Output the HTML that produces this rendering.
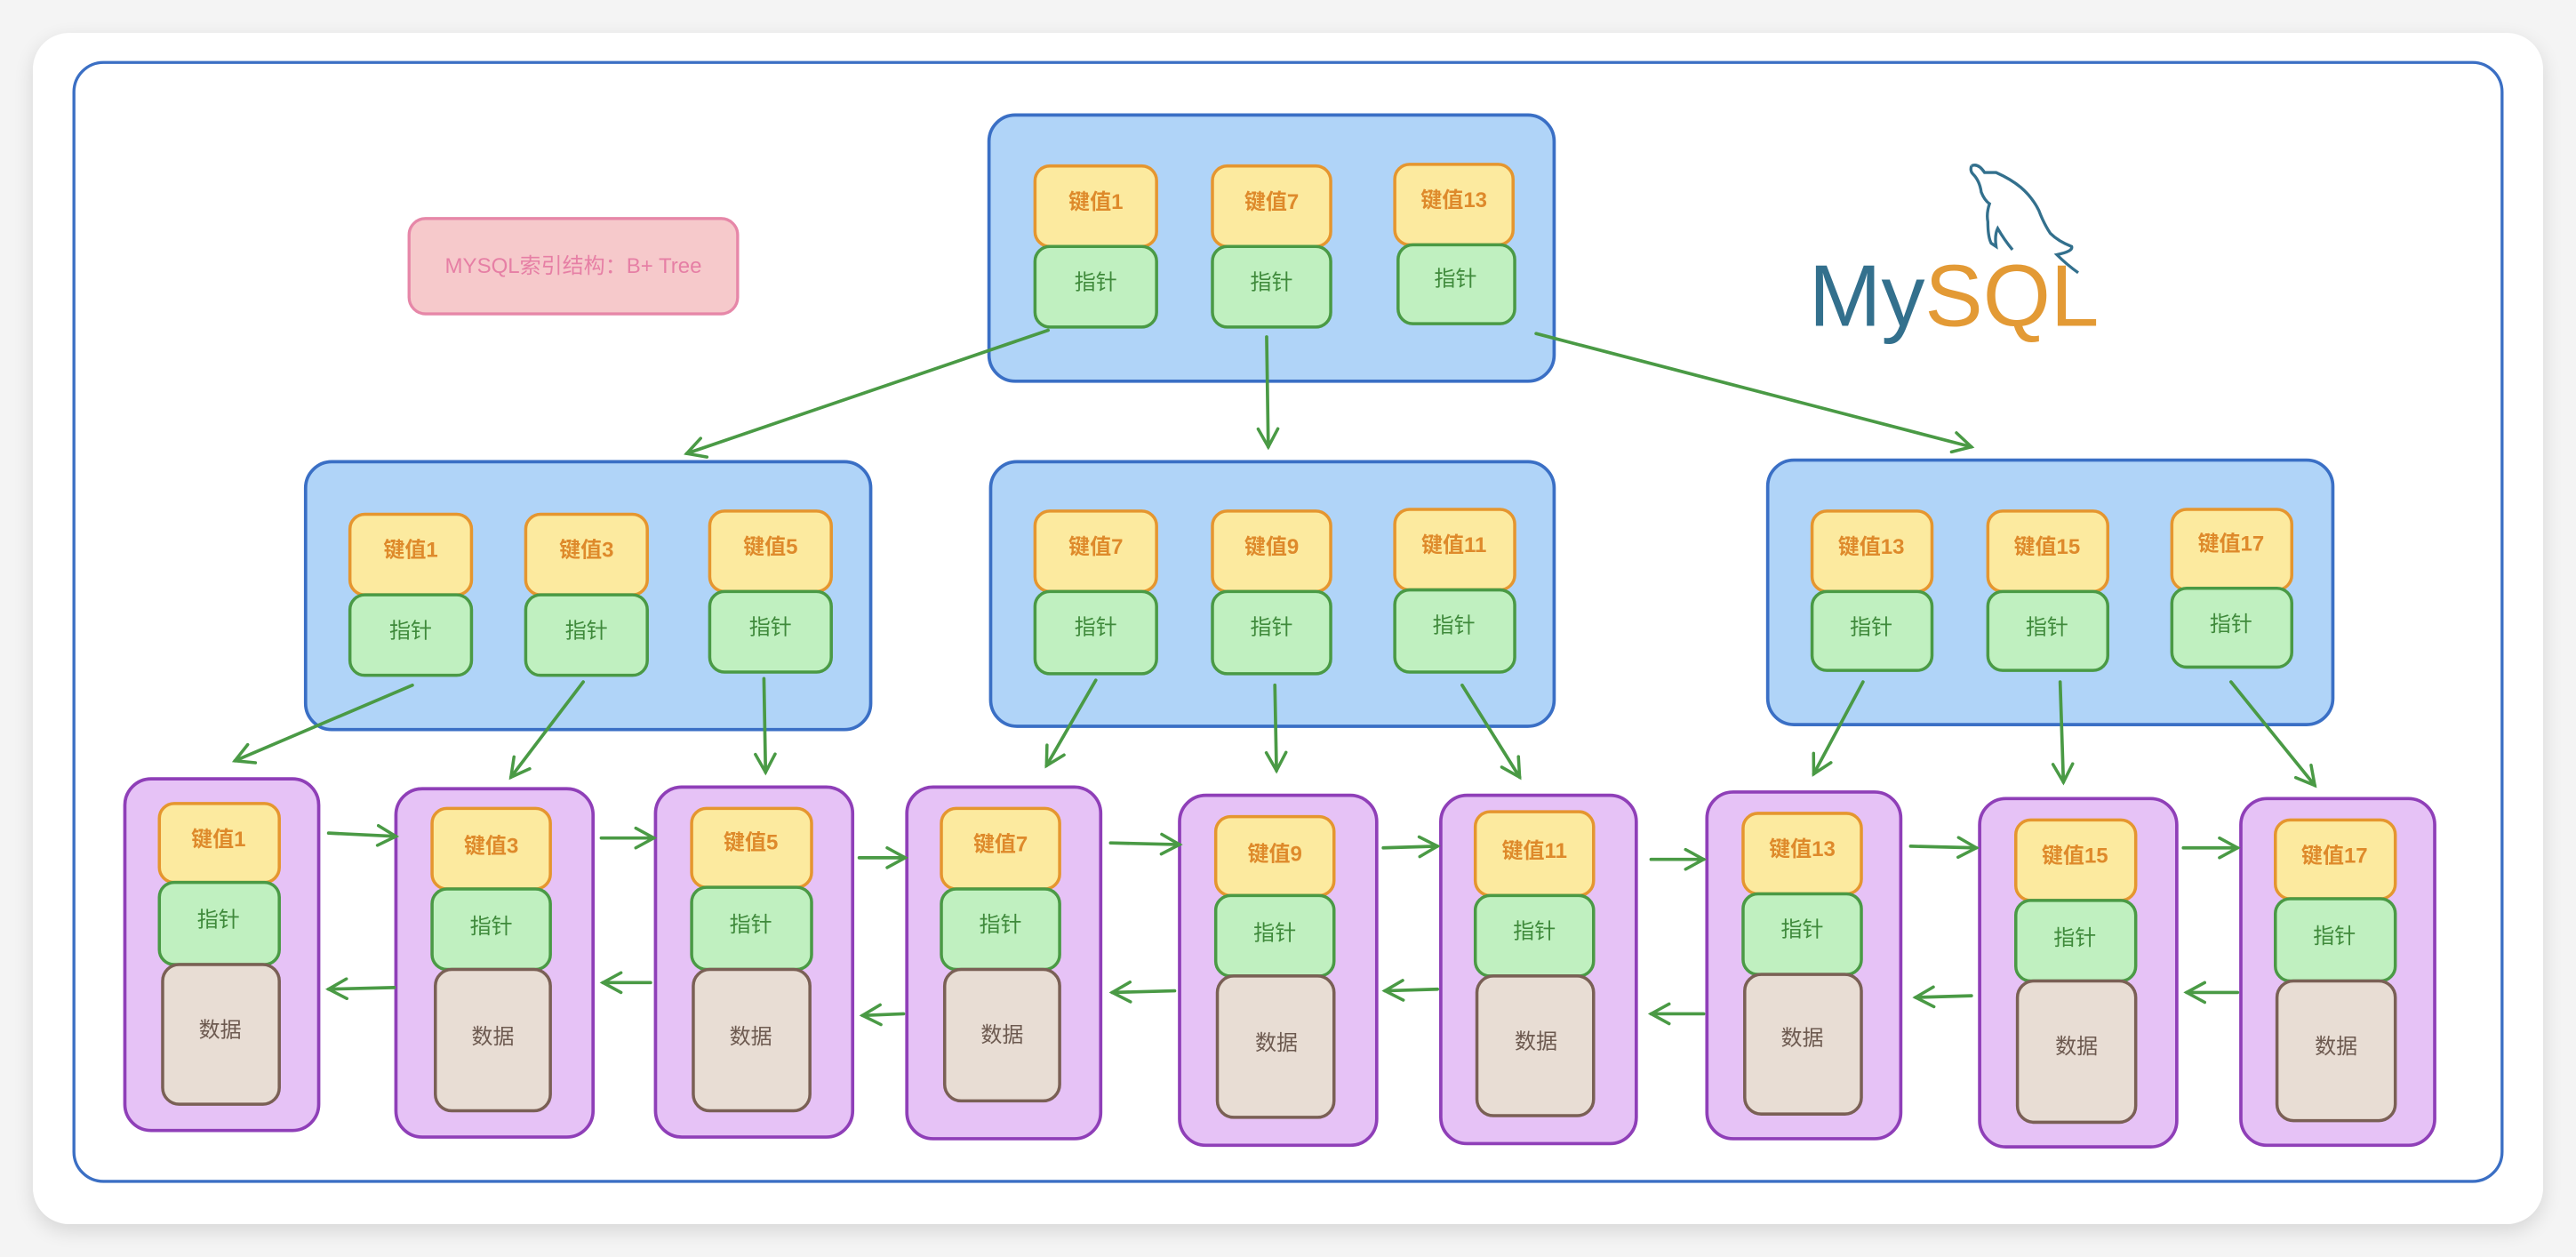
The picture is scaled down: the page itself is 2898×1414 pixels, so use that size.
<!DOCTYPE html>
<html><head><meta charset="utf-8"><style>
html,body{margin:0;padding:0;width:2898px;height:1414px;overflow:hidden;background:#f4f4f4}
svg{display:block}
text{font-family:"Liberation Sans","Noto Sans CJK SC",sans-serif;text-anchor:middle;dominant-baseline:central}
.k{fill:#fcea9f;stroke:#e5962f;stroke-width:1.9}
.kt{fill:#de8a2b;font-size:13px;font-weight:bold}
.p{fill:#c0f0c0;stroke:#4a9a45;stroke-width:1.9}
.pt{fill:#3f8a3b;font-size:13px}
.d{fill:#e8ddd4;stroke:#7a6055;stroke-width:1.9}
.dt{fill:#6d5a50;font-size:13px}
.n{fill:#b0d4f8;stroke:#3a6fc5;stroke-width:2}
.l{fill:#e6c2f6;stroke:#8f3fb8;stroke-width:2}
.a{stroke:#4a9a45;stroke-width:2;fill:none;stroke-linecap:round}
</style></head><body>
<svg width="2898" height="1414" viewBox="0 0 1568 765" preserveAspectRatio="none">
<defs>
<marker id="ah" markerWidth="14" markerHeight="14" refX="12" refY="7" orient="auto" markerUnits="userSpaceOnUse">
<path d="M1,1 L12,7 L1,13" fill="none" stroke="#4a9a45" stroke-width="1.9" stroke-linecap="round"/>
</marker>
<filter id="sh" x="-5%" y="-5%" width="110%" height="110%"><feGaussianBlur stdDeviation="6"/></filter>
</defs>
<rect x="0" y="0" width="1568" height="765" fill="#f4f4f4"/>
<rect x="20" y="24" width="1528" height="725" rx="22" fill="#000" opacity="0.12" filter="url(#sh)"/>
<rect x="20" y="20" width="1528" height="725" rx="22" fill="#fff"/>
<rect x="45" y="38" width="1478" height="681" rx="18" fill="none" stroke="#3b6fc4" stroke-width="1.8"/>

<rect x="249" y="133" width="200" height="58" rx="10" fill="#f6c9cb" stroke="#e687a8" stroke-width="1.8"/>
<text x="349" y="162" style="fill:#e67fa5;font-size:13px">MYSQL索引结构：B+ Tree</text>

<!-- MySQL logo -->
<path d="M1200,101 Q1204,99 1208,105 L1215,105 Q1224,109 1230,114 Q1237,120 1241,128 Q1244,136 1248,142 Q1253,147 1261,150 Q1262,153 1252,155 Q1258,161 1265,166 M1200,101 Q1199,104 1201,106 Q1205,110 1206,117 Q1208,122 1211,124 Q1209,130 1210,135 Q1210,144 1212,148 L1215,150 Q1214,143 1216,139 Q1220,146 1225,152" fill="none" stroke="#33708d" stroke-width="1.8"/>
<text x="1101" y="180" style="text-anchor:start;font-size:53px;fill:#33708d">My<tspan fill="#e39a35">SQL</tspan></text>

<!-- root -->
<rect class="n" x="602" y="70" width="344" height="162" rx="16"/>
<rect class="k" x="630" y="101" width="74" height="49" rx="9"/><text class="kt" x="667" y="123">键值1</text>
<rect class="p" x="630" y="150" width="74" height="49" rx="9"/><text class="pt" x="667" y="172">指针</text>
<rect class="k" x="738" y="101" width="72" height="49" rx="9"/><text class="kt" x="774" y="123">键值7</text>
<rect class="p" x="738" y="150" width="72" height="49" rx="9"/><text class="pt" x="774" y="172">指针</text>
<rect class="k" x="849" y="100" width="72" height="49" rx="9"/><text class="kt" x="885" y="122">键值13</text>
<rect class="p" x="851" y="149" width="71" height="48" rx="9"/><text class="pt" x="886" y="170">指针</text>

<!-- mid -->
<rect class="n" x="186" y="281" width="344" height="163" rx="16"/>
<rect class="k" x="213" y="313" width="74" height="49" rx="9"/><text class="kt" x="250" y="335">键值1</text>
<rect class="p" x="213" y="362" width="74" height="49" rx="9"/><text class="pt" x="250" y="384">指针</text>
<rect class="k" x="320" y="313" width="74" height="49" rx="9"/><text class="kt" x="357" y="335">键值3</text>
<rect class="p" x="320" y="362" width="74" height="49" rx="9"/><text class="pt" x="357" y="384">指针</text>
<rect class="k" x="432" y="311" width="74" height="49" rx="9"/><text class="kt" x="469" y="333">键值5</text>
<rect class="p" x="432" y="360" width="74" height="49" rx="9"/><text class="pt" x="469" y="382">指针</text>

<rect class="n" x="603" y="281" width="343" height="161" rx="16"/>
<rect class="k" x="630" y="311" width="74" height="49" rx="9"/><text class="kt" x="667" y="333">键值7</text>
<rect class="p" x="630" y="360" width="74" height="50" rx="9"/><text class="pt" x="667" y="382">指针</text>
<rect class="k" x="738" y="311" width="72" height="49" rx="9"/><text class="kt" x="774" y="333">键值9</text>
<rect class="p" x="738" y="360" width="72" height="50" rx="9"/><text class="pt" x="774" y="382">指针</text>
<rect class="k" x="849" y="310" width="73" height="49" rx="9"/><text class="kt" x="885" y="332">键值11</text>
<rect class="p" x="849" y="359" width="73" height="50" rx="9"/><text class="pt" x="885" y="381">指针</text>

<rect class="n" x="1076" y="280" width="344" height="161" rx="16"/>
<rect class="k" x="1103" y="311" width="73" height="49" rx="9"/><text class="kt" x="1139" y="333">键值13</text>
<rect class="p" x="1103" y="360" width="73" height="48" rx="9"/><text class="pt" x="1139" y="382">指针</text>
<rect class="k" x="1210" y="311" width="73" height="49" rx="9"/><text class="kt" x="1246" y="333">键值15</text>
<rect class="p" x="1210" y="360" width="73" height="48" rx="9"/><text class="pt" x="1246" y="382">指针</text>
<rect class="k" x="1322" y="310" width="73" height="49" rx="9"/><text class="kt" x="1358" y="331">键值17</text>
<rect class="p" x="1322" y="358" width="73" height="48" rx="9"/><text class="pt" x="1358" y="380">指针</text>

<!-- leaves -->
<g>
<rect class="l" x="76" y="474" width="118" height="214" rx="16"/>
<rect class="k" x="97" y="489" width="73" height="48" rx="9"/><text class="kt" x="133" y="511">键值1</text>
<rect class="p" x="97" y="537" width="73" height="50" rx="9"/><text class="pt" x="133" y="560">指针</text>
<rect class="d" x="99" y="587" width="71" height="85" rx="10"/><text class="dt" x="134" y="627">数据</text>

<rect class="l" x="241" y="480" width="120" height="212" rx="16"/>
<rect class="k" x="263" y="492" width="72" height="49" rx="9"/><text class="kt" x="299" y="515">键值3</text>
<rect class="p" x="263" y="541" width="72" height="49" rx="9"/><text class="pt" x="299" y="564">指针</text>
<rect class="d" x="265" y="590" width="70" height="86" rx="10"/><text class="dt" x="300" y="631">数据</text>

<rect class="l" x="399" y="479" width="120" height="213" rx="16"/>
<rect class="k" x="421" y="492" width="73" height="48" rx="9"/><text class="kt" x="457" y="513">键值5</text>
<rect class="p" x="421" y="540" width="73" height="50" rx="9"/><text class="pt" x="457" y="563">指针</text>
<rect class="d" x="422" y="590" width="71" height="86" rx="10"/><text class="dt" x="457" y="631">数据</text>

<rect class="l" x="552" y="479" width="118" height="214" rx="16"/>
<rect class="k" x="573" y="492" width="72" height="49" rx="9"/><text class="kt" x="609" y="514">键值7</text>
<rect class="p" x="573" y="541" width="72" height="49" rx="9"/><text class="pt" x="609" y="563">指针</text>
<rect class="d" x="575" y="590" width="70" height="80" rx="10"/><text class="dt" x="610" y="630">数据</text>

<rect class="l" x="718" y="484" width="120" height="213" rx="16"/>
<rect class="k" x="740" y="497" width="72" height="48" rx="9"/><text class="kt" x="776" y="520">键值9</text>
<rect class="p" x="740" y="545" width="72" height="49" rx="9"/><text class="pt" x="776" y="568">指针</text>
<rect class="d" x="741" y="594" width="71" height="86" rx="10"/><text class="dt" x="777" y="635">数据</text>

<rect class="l" x="877" y="484" width="119" height="212" rx="16"/>
<rect class="k" x="898" y="494" width="72" height="51" rx="9"/><text class="kt" x="934" y="518">键值11</text>
<rect class="p" x="898" y="545" width="72" height="49" rx="9"/><text class="pt" x="934" y="567">指针</text>
<rect class="d" x="899" y="594" width="71" height="85" rx="10"/><text class="dt" x="935" y="634">数据</text>

<rect class="l" x="1039" y="482" width="118" height="211" rx="16"/>
<rect class="k" x="1061" y="495" width="72" height="49" rx="9"/><text class="kt" x="1097" y="517">键值13</text>
<rect class="p" x="1061" y="544" width="72" height="49" rx="9"/><text class="pt" x="1097" y="566">指针</text>
<rect class="d" x="1062" y="593" width="71" height="85" rx="10"/><text class="dt" x="1097" y="632">数据</text>

<rect class="l" x="1205" y="486" width="120" height="212" rx="16"/>
<rect class="k" x="1227" y="499" width="73" height="49" rx="9"/><text class="kt" x="1263" y="521">键值15</text>
<rect class="p" x="1227" y="548" width="73" height="49" rx="9"/><text class="pt" x="1263" y="571">指针</text>
<rect class="d" x="1228" y="597" width="72" height="86" rx="10"/><text class="dt" x="1264" y="637">数据</text>

<rect class="l" x="1364" y="486" width="118" height="211" rx="16"/>
<rect class="k" x="1385" y="499" width="73" height="48" rx="9"/><text class="kt" x="1421" y="521">键值17</text>
<rect class="p" x="1385" y="547" width="73" height="50" rx="9"/><text class="pt" x="1421" y="570">指针</text>
<rect class="d" x="1386" y="597" width="72" height="85" rx="10"/><text class="dt" x="1422" y="637">数据</text>
</g>

<!-- tree arrows -->
<g class="a" marker-end="url(#ah)">
<line x1="638" y1="201" x2="418" y2="276"/>
<line x1="771" y1="205" x2="772" y2="272"/>
<line x1="935" y1="203" x2="1200" y2="272"/>
<line x1="251" y1="417" x2="143" y2="463"/>
<line x1="355" y1="415" x2="311" y2="473"/>
<line x1="465" y1="413" x2="466" y2="470"/>
<line x1="667" y1="414" x2="637" y2="466"/>
<line x1="776" y1="417" x2="777" y2="469"/>
<line x1="890" y1="417" x2="925" y2="473"/>
<line x1="1134" y1="415" x2="1104" y2="471"/>
<line x1="1254" y1="415" x2="1256" y2="476"/>
<line x1="1358" y1="415" x2="1409" y2="478"/>
<!-- forward -->
<line x1="200" y1="507" x2="241" y2="509"/>
<line x1="366" y1="510" x2="398" y2="510"/>
<line x1="523" y1="522" x2="551" y2="522"/>
<line x1="676" y1="513" x2="718" y2="514"/>
<line x1="842" y1="516" x2="875" y2="515"/>
<line x1="1005" y1="523" x2="1037" y2="523"/>
<line x1="1163" y1="515" x2="1203" y2="516"/>
<line x1="1329" y1="516" x2="1362" y2="516"/>
<!-- backward -->
<line x1="240" y1="601" x2="200" y2="602"/>
<line x1="396" y1="598" x2="367" y2="598"/>
<line x1="550" y1="617" x2="525" y2="618"/>
<line x1="715" y1="603" x2="677" y2="604"/>
<line x1="875" y1="602" x2="843" y2="603"/>
<line x1="1037" y1="617" x2="1005" y2="617"/>
<line x1="1200" y1="606" x2="1166" y2="607"/>
<line x1="1362" y1="604" x2="1331" y2="604"/>
</g>
</svg>
</body></html>
